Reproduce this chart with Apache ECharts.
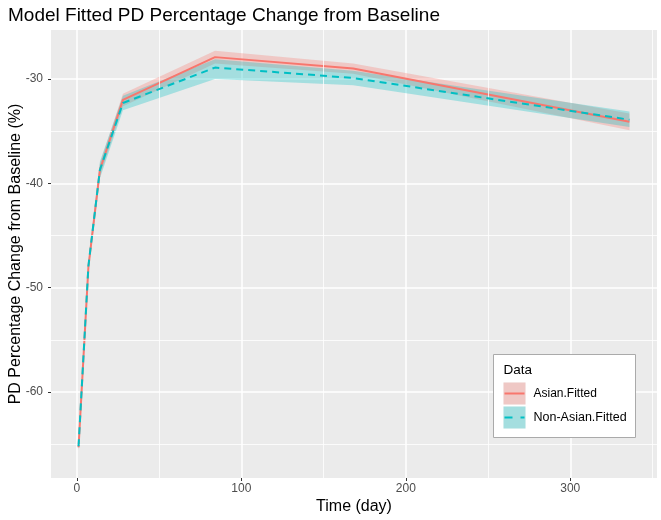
<!DOCTYPE html>
<html>
<head>
<meta charset="utf-8">
<script src="https://cdn.jsdelivr.net/npm/echarts@6/dist/echarts.min.js"></script>
<style>
  html, body { margin: 0; padding: 0; background: #fff; }
  #main { width: 661px; height: 520px; }
</style>
</head>
<body>
<div id="main"></div>
<script>
// time points (day)
var days = [1, 7, 14, 28, 84, 168, 336];

// Asian fitted value and ribbon
var asianFit  = [-65.3, -48.0, -38.7, -32.0, -27.9, -29.0, -34.1];
var asianLow  = [-65.6, -48.4, -39.3, -32.6, -28.5, -29.5, -34.9];
var asianHigh = [-65.0, -47.6, -38.1, -31.4, -27.3, -28.5, -33.3];

// Non-Asian fitted value and ribbon
var nonAsianFit  = [-65.2, -47.9, -38.7, -32.3, -28.9, -29.9, -33.9];
var nonAsianLow  = [-65.6, -48.4, -39.5, -33.0, -30.0, -30.6, -34.6];
var nonAsianHigh = [-64.8, -47.4, -37.9, -31.6, -28.1, -29.2, -33.1];

var xTicks = [0, 100, 200, 300];
var yTicks = [-60, -50, -40, -30];
var xMinor = [50, 150, 250, 350];
var yMinor = [-65, -55, -45, -35];

var RED = '#F8766D';
var CYAN = '#00BFC4';
var FONT = 'Liberation Sans';

function pairs(ys) {
  return days.map(function (d, i) { return [d, ys[i]]; });
}
function band(low, high) {
  return days.map(function (d, i) { return [d, low[i], high[i]]; });
}

// whole ribbon as one polygon, drawn once from the first item
function ribbonRenderer(color) {
  return function (params, api) {
    if (params.dataIndex !== 0) return null;
    var top = [], bottom = [];
    for (var i = 0; i < days.length; i++) {
      top.push(api.coord([api.value(0, i), api.value(2, i)]));
      bottom.push(api.coord([api.value(0, i), api.value(1, i)]));
    }
    return {
      type: 'polygon',
      shape: { points: top.concat(bottom.reverse()) },
      style: { fill: color, opacity: 0.3 }
    };
  };
}

var chart = echarts.init(document.getElementById('main'), null, { renderer: 'canvas' });

var minorLines = [];
xMinor.forEach(function (v) { minorLines.push({ xAxis: v }); });
yMinor.forEach(function (v) { minorLines.push({ yAxis: v }); });

var option = {
  animation: false,
  backgroundColor: '#fff',
  textStyle: { fontFamily: FONT },
  title: {
    text: 'Model Fitted PD Percentage Change from Baseline',
    left: 3,
    top: 1,
    textStyle: { fontSize: 19, fontWeight: 'normal', color: '#000', fontFamily: FONT }
  },
  grid: {
    left: 51,
    right: 4,
    top: 30,
    bottom: 42,
    outerBoundsMode: 'none',
    show: true,
    backgroundColor: '#EBEBEB',
    borderWidth: 0
  },
  xAxis: {
    type: 'value',
    min: -15.75,
    max: 352.75,
    name: 'Time (day)',
    nameLocation: 'middle',
    nameGap: 21,
    nameMoveOverlap: false,
    nameTextStyle: { fontSize: 16, color: '#000', fontFamily: FONT },
    axisLine: { show: false, onZero: false },
    axisTick: { show: true, length: 3, lineStyle: { color: '#333' }, customValues: xTicks },
    axisLabel: { customValues: xTicks, color: '#4D4D4D', fontSize: 12, margin: 5, fontFamily: FONT },
    splitLine: { show: true, lineStyle: { color: '#fff', width: 1.5 } }
  },
  yAxis: {
    type: 'value',
    min: -68.24,
    max: -25.3,
    name: 'PD Percentage Change from Baseline (%)',
    nameLocation: 'middle',
    nameGap: 27,
    nameMoveOverlap: false,
    nameTextStyle: { fontSize: 16, color: '#000', fontFamily: FONT },
    axisLine: { show: false, onZero: false },
    axisTick: { show: true, length: 3, lineStyle: { color: '#333' }, customValues: yTicks },
    axisLabel: { customValues: yTicks, color: '#4D4D4D', fontSize: 12, margin: 8, fontFamily: FONT },
    splitLine: { show: true, lineStyle: { color: '#fff', width: 1.5 } }
  },
  series: [{
    // minor grid lines
    name: 'minor',
    type: 'line',
    data: [],
    z: 1,
    silent: true,
    markLine: {
      silent: true,
      symbol: ['none', 'none'],
      label: { show: false },
      lineStyle: { color: '#fff', width: 0.8, type: 'solid' },
      data: minorLines
    }
  }, {
    name: 'asianRibbon',
    type: 'custom',
    data: band(asianLow, asianHigh),
    encode: { x: 0, y: [1, 2] },
    renderItem: ribbonRenderer(RED),
    clip: true,
    z: 2,
    silent: true
  }, {
    name: 'nonAsianRibbon',
    type: 'custom',
    data: band(nonAsianLow, nonAsianHigh),
    encode: { x: 0, y: [1, 2] },
    renderItem: ribbonRenderer(CYAN),
    clip: true,
    z: 3,
    silent: true
  }, {
    name: 'Asian.Fitted',
    type: 'line',
    data: pairs(asianFit),
    symbol: 'none',
    lineStyle: { color: RED, width: 2 },
    z: 4
  }, {
    name: 'Non-Asian.Fitted',
    type: 'line',
    data: pairs(nonAsianFit),
    symbol: 'none',
    lineStyle: { color: CYAN, width: 2, type: [7, 5] },
    z: 5
  }],
  graphic: [{
    type: 'group',
    left: 493,
    top: 354,
    z: 100,
    children: [
      { type: 'rect', z: 100, shape: { x: 0, y: 0, width: 142, height: 83 }, style: { fill: '#fff', stroke: '#AAAAAA', lineWidth: 1 } },
      { type: 'text', z: 101, x: 10, y: 9, style: { text: 'Data', fontSize: 13.5, fill: '#000', fontFamily: FONT } },
      { type: 'rect', z: 101, shape: { x: 10, y: 28, width: 22, height: 22 }, style: { fill: '#EBEBEB' } },
      { type: 'rect', z: 102, shape: { x: 10, y: 28, width: 22, height: 22 }, style: { fill: RED, opacity: 0.3 } },
      { type: 'line', z: 103, shape: { x1: 11, y1: 39, x2: 31, y2: 39 }, style: { stroke: RED, lineWidth: 2 } },
      { type: 'text', z: 101, x: 40, y: 33, style: { text: 'Asian.Fitted', fontSize: 12, fill: '#000', fontFamily: FONT } },
      { type: 'rect', z: 101, shape: { x: 10, y: 52, width: 22, height: 22 }, style: { fill: '#EBEBEB' } },
      { type: 'rect', z: 102, shape: { x: 10, y: 52, width: 22, height: 22 }, style: { fill: CYAN, opacity: 0.3 } },
      { type: 'line', z: 103, shape: { x1: 11, y1: 63, x2: 31, y2: 63 }, style: { stroke: CYAN, lineWidth: 2, lineDash: [8, 8] } },
      { type: 'text', z: 101, x: 40, y: 57, style: { text: 'Non-Asian.Fitted', fontSize: 12.5, fill: '#000', fontFamily: FONT } }
    ]
  }]
};

chart.setOption(option);
</script>
</body>
</html>
